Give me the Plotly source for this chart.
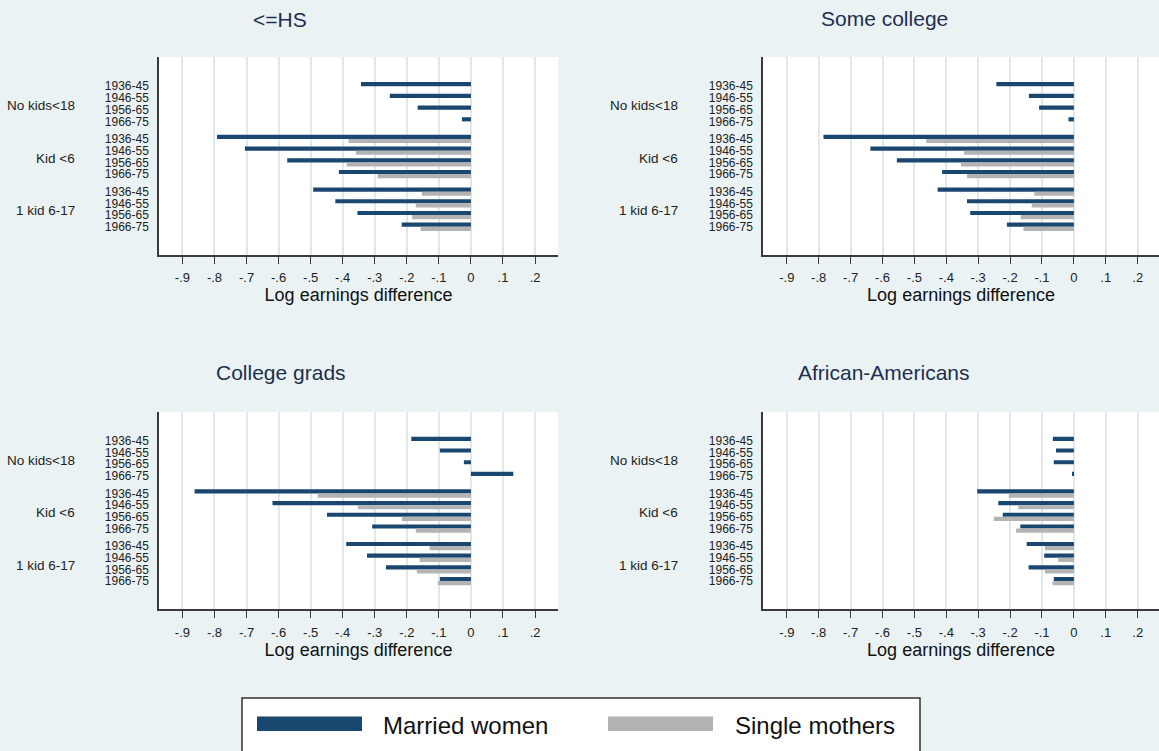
import plotly.graph_objects as go

# ---------------- data ----------------
panel_titles = ["<=HS", "Some college", "College grads", "African-Americans"]
groups = ["No kids<18", "Kid <6", "1 kid 6-17"]
cohorts = ["1936-45", "1946-55", "1956-65", "1966-75"]
series_names = ["Married women", "Single mothers"]
x_tickvals = [-0.9, -0.8, -0.7, -0.6, -0.5, -0.4, -0.3, -0.2, -0.1, 0, 0.1, 0.2]
x_ticktext = ["-.9", "-.8", "-.7", "-.6", "-.5", "-.4", "-.3", "-.2", "-.1", "0", ".1", ".2"]
axis_title = "Log earnings difference"

# order: No kids (4 cohorts), Kid <6 (4 cohorts), 1 kid 6-17 (4 cohorts)
married_hs = [-0.343, -0.253, -0.166, -0.028,
              -0.792, -0.705, -0.573, -0.412,
              -0.492, -0.423, -0.354, -0.216]
single_hs = [None, None, None, None,
             -0.382, -0.359, -0.388, -0.291,
             -0.153, -0.172, -0.183, -0.157]

married_sc = [-0.243, -0.141, -0.109, -0.017,
              -0.785, -0.638, -0.555, -0.413,
              -0.427, -0.335, -0.325, -0.210]
single_sc = [None, None, None, None,
             -0.463, -0.344, -0.354, -0.335,
             -0.124, -0.132, -0.167, -0.158]

married_cg = [-0.186, -0.097, -0.022, 0.132,
              -0.862, -0.619, -0.449, -0.308,
              -0.389, -0.324, -0.265, -0.097]
single_cg = [None, None, None, None,
             -0.478, -0.353, -0.215, -0.172,
             -0.129, -0.160, -0.169, -0.103]

married_aa = [-0.066, -0.056, -0.063, -0.004,
              -0.303, -0.237, -0.223, -0.168,
              -0.148, -0.093, -0.142, -0.063]
single_aa = [None, None, None, None,
             -0.204, -0.174, -0.251, -0.181,
             -0.091, -0.049, -0.091, -0.067]

married_all = [married_hs, married_sc, married_cg, married_aa]
single_all = [single_hs, single_sc, single_cg, single_aa]

# ---------------- styling ----------------
W, H = 1159, 751
FONT = "Liberation Sans, Arial, sans-serif"
BG = "#eaf2f3"
NAVY = "#1a476f"
GRAY = "#b3b3b3"
TITLE_COLOR = "#1e2f50"
AXIS_COLOR = "#3a3a3a"
GRID = "#dfe9ed"

# row positions: groups separated by an extra half-row gap
ypos = [g * 4.5 + r for g in range(len(groups)) for r in range(len(cohorts))]
ylabels = [c for g in groups for c in cohorts]
group_centers = [g * 4.5 + 1.5 for g in range(len(groups))]

# pixel layout of the four plot areas (left, right, top, bottom)
boxes = [
    (159, 558, 57, 255),
    (763, 1159, 57, 255),
    (159, 558, 411.7, 609.3),
    (763, 1159, 411.7, 609.3),
]
xranges = [[-0.973, 0.2716], [-0.9746, 0.2668], [-0.973, 0.2716], [-0.9746, 0.2668]]
title_pos = [(280, 19.5), (884, 18.5), (281, 372.5), (884, 372.5)]
group_label_right = [77, 680, 77, 680]

fig = go.Figure()
annotations = []

for i in range(4):
    xa = "x" if i == 0 else f"x{i+1}"
    ya = "y" if i == 0 else f"y{i+1}"
    fig.add_trace(go.Bar(
        x=married_all[i], y=ypos, orientation="h", name=series_names[0],
        marker=dict(color=NAVY, line=dict(width=0)),
        xaxis=xa, yaxis=ya, showlegend=False, offsetgroup="a",
    ))
    fig.add_trace(go.Bar(
        x=single_all[i], y=ypos, orientation="h", name=series_names[1],
        marker=dict(color=GRAY, line=dict(width=0)),
        xaxis=xa, yaxis=ya, showlegend=False, offsetgroup="b",
    ))

layout = dict(
    width=W, height=H,
    margin=dict(l=0, r=0, t=0, b=0),
    paper_bgcolor=BG, plot_bgcolor="white",
    barmode="group", bargap=0.29, bargroupgap=0,
    font=dict(family=FONT, color="#222222"),
    showlegend=False,
)

for i, (l, r, t, b) in enumerate(boxes):
    key = "" if i == 0 else str(i + 1)
    layout["xaxis" + key] = dict(
        domain=[l / W, r / W], range=xranges[i], anchor="y" + key,
        tickvals=x_tickvals, ticktext=x_ticktext,
        ticks="outside", ticklen=7, tickwidth=1.2, tickcolor=AXIS_COLOR,
        showline=True, linecolor=AXIS_COLOR, linewidth=1.5,
        showgrid=True, gridcolor=GRID, gridwidth=1.5,
        zeroline=False, fixedrange=True,
        tickfont=dict(size=13, color="#222222", family=FONT),
        ticklabelstandoff=3,
        title=dict(text=axis_title, font=dict(size=18, color="#111111", family=FONT), standoff=3),
    )
    layout["yaxis" + key] = dict(
        domain=[1 - b / H, 1 - t / H], range=[14.41, -2.5], anchor="x" + key,
        tickvals=ypos, ticktext=ylabels, ticks="",
        showline=True, linecolor=AXIS_COLOR, linewidth=1.5,
        showgrid=False, zeroline=False, fixedrange=True,
        tickfont=dict(size=12, color="#222222", family=FONT),
        ticklabelstandoff=6,
    )
    # panel title
    annotations.append(dict(
        text=panel_titles[i], x=title_pos[i][0] / W, y=1 - title_pos[i][1] / H,
        xref="paper", yref="paper", xanchor="center", yanchor="middle",
        showarrow=False, font=dict(size=21, color=TITLE_COLOR, family=FONT),
    ))
    # group labels
    for g, gname in enumerate(groups):
        annotations.append(dict(
            text=gname, x=group_label_right[i] / W, y=group_centers[g] + 0.15,
            xref="paper", yref="y" + key, xanchor="right", yanchor="middle",
            showarrow=False, font=dict(size=13.5, color="#222222", family=FONT),
        ))

# custom legend (wide swatches like the original)
shapes = [dict(type="rect", xref="paper", yref="paper",
               x0=242 / W, x1=920 / W, y0=1 - 770 / H, y1=1 - 698 / H,
               fillcolor="white", line=dict(color="#333333", width=1.5), layer="above")]
leg_swatch_x = [257, 608]
leg_text_x = [381, 733]
leg_colors = [NAVY, GRAY]
for k in range(2):
    shapes.append(dict(type="rect", xref="paper", yref="paper",
                       x0=leg_swatch_x[k] / W, x1=(leg_swatch_x[k] + 105) / W,
                       y0=1 - 731 / H, y1=1 - 716.5 / H,
                       fillcolor=leg_colors[k], line=dict(width=0), layer="above"))
    annotations.append(dict(
        text=series_names[k], x=leg_text_x[k] / W, y=1 - 725 / H,
        xref="paper", yref="paper", xanchor="left", yanchor="middle",
        showarrow=False, font=dict(size=24, color="#111111", family=FONT),
    ))

layout["annotations"] = annotations
layout["shapes"] = shapes
fig.update_layout(**layout)

fig.write_html(
    "out.html",
    config={"displayModeBar": False},
    post_script="document.body.style.margin='0';document.body.style.overflow='hidden';",
)
